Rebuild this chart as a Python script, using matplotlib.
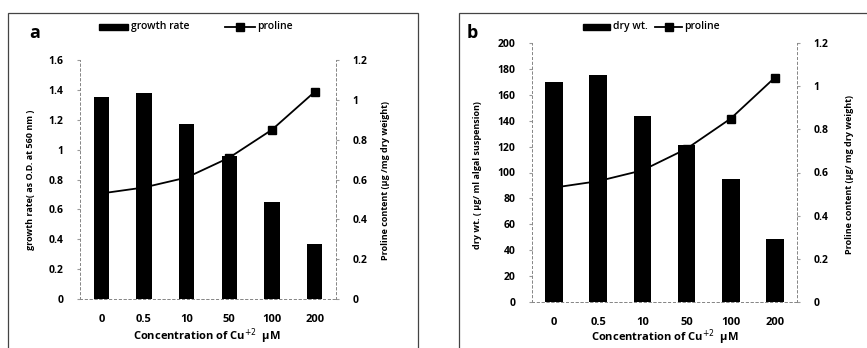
import matplotlib
matplotlib.use("Agg")
import matplotlib.pyplot as plt
from matplotlib.patches import Rectangle
from matplotlib.lines import Line2D

plt.rcParams['font.family'] = ['Open Sans', 'DejaVu Sans']

categories = ["0", "0.5", "10", "50", "100", "200"]
growth_rate = [1.35, 1.38, 1.17, 0.96, 0.65, 0.37]
proline_a = [0.53, 0.56, 0.61, 0.71, 0.85, 1.04]
dry_wt = [170, 175, 144, 121, 95, 49]
proline_b = [0.53, 0.56, 0.61, 0.71, 0.85, 1.04]

W, H = 867, 348
fig = plt.figure(figsize=(W / 100, H / 100), dpi=100)


def box(x0, y0, x1, y1):
    return [x0 / W, 1 - y1 / H, (x1 - x0) / W, (y1 - y0) / H]


def px(x, y):
    return x / W, 1 - y / H


def panel(rect, bars, line, ylim, yticks, yticklabels, bar_w, ylabel, rlabel,
          ylab_x, rlab_x, xlab_y, frame, letter_xy, letter, leg):
    ax = fig.add_axes(rect)
    xs = list(range(len(categories)))
    ax.bar(xs, bars, width=bar_w, color="black", zorder=2)
    ax.set_xlim(-0.5, len(categories) - 0.5)
    ax.set_ylim(*ylim)
    ax.set_yticks(yticks)
    ax.set_yticklabels(yticklabels, fontsize=7.5, fontweight="bold")
    ax.set_xticks(xs)
    ax.set_xticklabels(categories, fontsize=8, fontweight="bold")
    ax.tick_params(axis="y", length=2, pad=10, color="#999999")
    ax.tick_params(axis="x", length=0, pad=11)
    ax.spines["top"].set_visible(False)
    for s in ["left", "right", "bottom"]:
        ax.spines[s].set_linestyle((0, (2, 3)))
        ax.spines[s].set_color("#888888")
        ax.spines[s].set_linewidth(0.7)

    ax2 = ax.twinx()
    ax2.plot(xs, line, color="black", marker="s", markersize=6, linewidth=1.3,
             zorder=3)
    ax2.set_ylim(0, 1.2)
    ax2.set_yticks([0, 0.2, 0.4, 0.6, 0.8, 1.0, 1.2])
    ax2.set_yticklabels(["0", "0.2", "0.4", "0.6", "0.8", "1", "1.2"],
                        fontsize=7.5, fontweight="bold")
    ax2.tick_params(axis="y", length=2, pad=10, color="#999999")
    ax2.spines["top"].set_visible(False)
    for s in ["left", "right", "bottom"]:
        ax2.spines[s].set_linestyle((0, (2, 3)))
        ax2.spines[s].set_color("#888888")
        ax2.spines[s].set_linewidth(0.7)

    fig.text(*px(*ylab_x), ylabel, rotation=90, ha="center", va="center",
             fontsize=6.5, fontweight="bold")
    fig.text(*px(*rlab_x), rlabel, rotation=90, ha="center", va="center",
             fontsize=6.5, fontweight="bold")
    fig.text(*px(xlab_y[0], xlab_y[1]), "Concentration of Cu$^{+2}$  \u00b5M",
             ha="center", va="center", fontsize=8, fontweight="bold")
    fig.text(*px(*letter_xy), letter, ha="center", va="center", fontsize=13,
             fontweight="bold")

    fx0, fy0, fx1, fy1 = frame
    fig.add_artist(Rectangle(px(fx0, fy1), (fx1 - fx0) / W, (fy1 - fy0) / H,
                             transform=fig.transFigure, fill=False,
                             edgecolor="#444444", linewidth=0.9))

    # legend
    (p0, p1, t1, l0, l1, t2, ly, name) = leg
    fig.add_artist(Rectangle(px(p0, ly + 3), (p1 - p0) / W, 6 / H,
                             transform=fig.transFigure, color="black"))
    fig.text(*px(t1, ly), name, ha="left", va="center", fontsize=7.5,
             fontweight="semibold")
    fig.add_artist(Line2D([l0 / W, l1 / W], [1 - ly / H, 1 - ly / H],
                          transform=fig.transFigure, color="black", lw=1.3))
    fig.add_artist(Line2D([(l0 + l1) / 2 / W], [1 - ly / H], marker="s",
                          markersize=6, color="black",
                          transform=fig.transFigure))
    fig.text(*px(t2, ly), "proline", ha="left", va="center", fontsize=7.5,
             fontweight="semibold")


panel(box(80, 60, 336, 299), growth_rate, proline_a, (0, 1.6),
      [0, 0.2, 0.4, 0.6, 0.8, 1.0, 1.2, 1.4, 1.6],
      ["0", "0.2", "0.4", "0.6", "0.8", "1", "1.2", "1.4", "1.6"], 0.36,
      "growth rate( as O.D. at 560 nm )",
      "Proline content (\u00b5g /mg dry weight)",
      (31, 180), (386, 180), (207, 336), (8, 13, 418, 352), (35, 33), "a",
      (99, 128, 131, 225, 255, 257, 27, "growth rate"))

panel(box(532, 43, 797, 302), dry_wt, proline_b, (0, 200),
      list(range(0, 201, 20)), [str(v) for v in range(0, 201, 20)], 0.4,
      "dry wt. ( \u00b5g/ ml algal suspension)",
      "Proline content (\u00b5g/ mg dry weight)",
      (477, 175), (850, 175), (665, 337), (459, 13, 872, 352), (472, 33), "b",
      (583, 610, 613, 655, 682, 684, 27, "dry wt."))

fig.savefig("out.png", dpi=100, facecolor="white")
